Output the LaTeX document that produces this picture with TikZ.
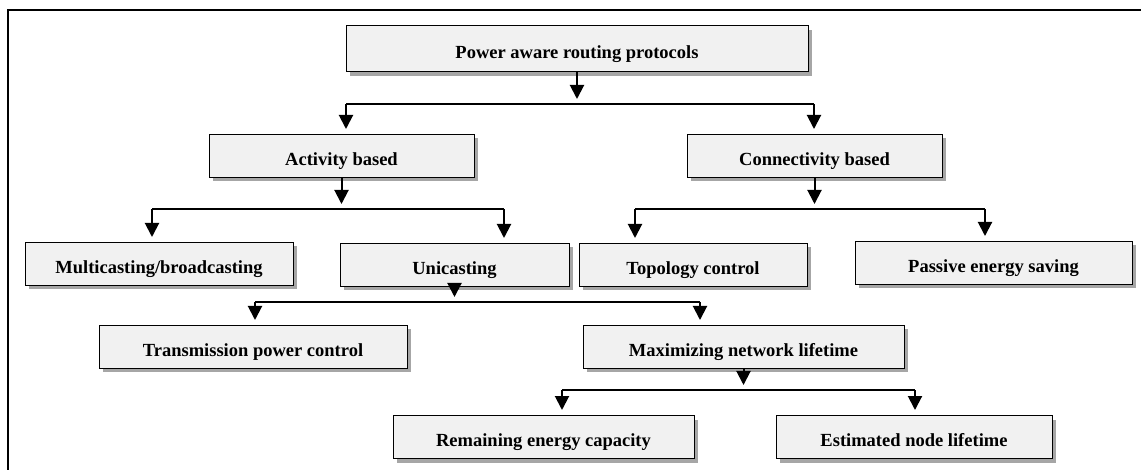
\documentclass[tikz,border=0pt]{standalone}
\usepackage{fontspec}
\setmainfont{Liberation Serif}
\usetikzlibrary{arrows.meta,shadows}

\definecolor{boxfill}{HTML}{F1F1F1}
\definecolor{boxshade}{HTML}{A6A6A6}

\begin{document}
\begin{tikzpicture}[x=1pt, y=-1pt,
    box/.style={draw, line width=1pt, fill=boxfill, inner sep=0pt,
        minimum height=43pt, text height=19pt, text depth=0pt,
        font=\fontsize{18.5}{20}\selectfont\bfseries,
        drop shadow={shadow xshift=4pt, shadow yshift=-4pt, fill=boxshade, opacity=1}},
    bus/.style={line width=1.2pt},
    arr/.style={line width=2pt, -{Triangle[width=14pt,length=14pt]}}]

    \useasboundingbox (0,0) rectangle (1141,470);
    \draw[line width=2pt] (8,470) -- (8,10) -- (1141,10);

    \node[box, minimum width=462pt, minimum height=46pt] (root) at (577,49) {Power aware routing protocols};

    \node[box, minimum width=265pt] (act)  at (341.5,156) {Activity based};
    \node[box, minimum width=255pt] (conn) at (814.5,156) {Connectivity based};

    \node[box, minimum width=268pt] (multi) at (159,264)   {Multicasting/broadcasting};
    \node[box, minimum width=229pt] (uni)   at (454.5,265) {Unicasting};
    \node[box, minimum width=228pt] (topo)  at (693,265)   {Topology control};
    \node[box, minimum width=277pt] (pass)  at (993.5,263) {Passive energy saving};

    \node[box, minimum width=308pt] (trans) at (253,347)   {Transmission power control};
    \node[box, minimum width=321pt] (max)   at (743.5,347) {Maximizing network lifetime};

    \node[box, minimum width=301pt] (rem) at (543.5,437) {Remaining energy capacity};
    \node[box, minimum width=276pt] (est) at (914,437)   {Estimated node lifetime};

    \foreach \up/\lft/\rgt/\xl/\xr/\yb in {root/act/conn/346/814/104, act/multi/uni/152/504/209,
        conn/topo/pass/635/985/209, uni/trans/max/255/700/302, max/rem/est/562/915/390} {
        \coordinate (\up-l) at (\xl,\yb);
        \coordinate (\up-r) at (\xr,\yb);
        \draw[bus] (\up-l) -- (\up-r);
        \draw[arr, shorten >=5pt] (\up.south) -- (\up.south |- \up-l);
        \draw[arr, shorten >=5pt] (\up-l) -- (\up-l |- \lft.north);
        \draw[arr, shorten >=5pt] (\up-r) -- (\up-r |- \rgt.north);
    }

\end{tikzpicture}
\end{document}
